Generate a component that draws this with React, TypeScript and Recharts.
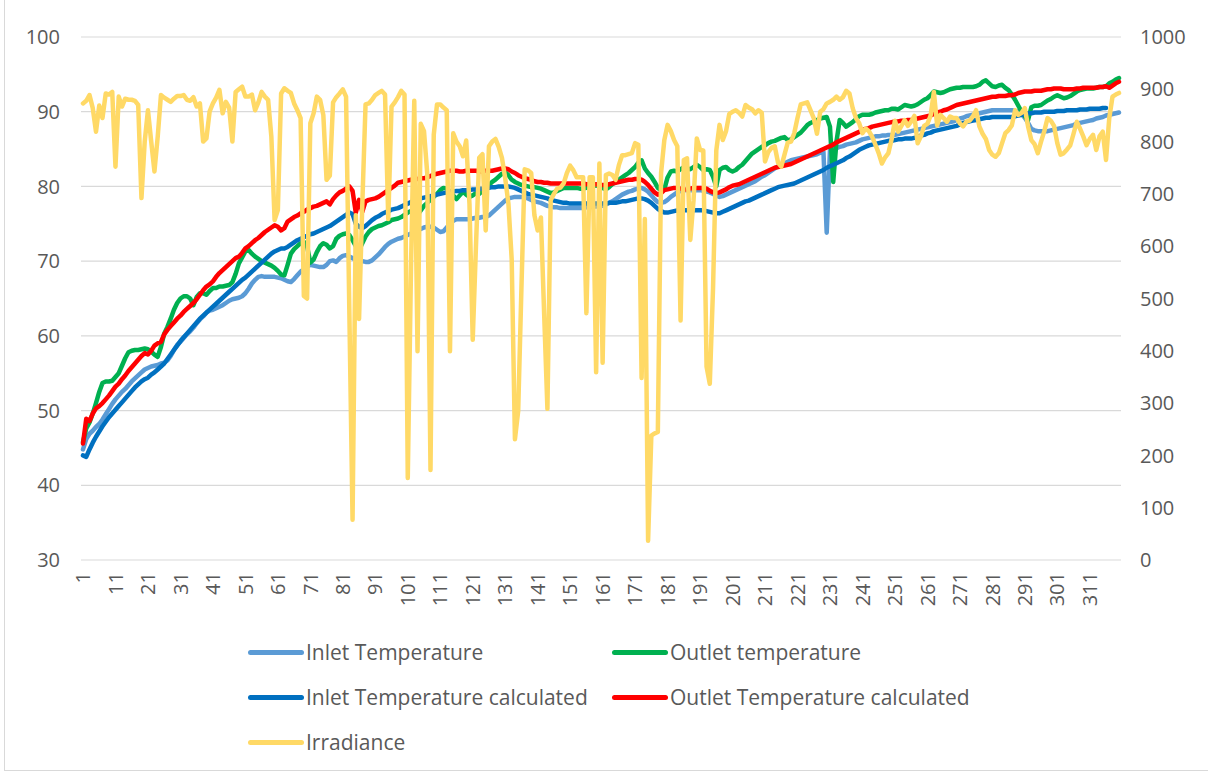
import { CartesianGrid, Line, LineChart, XAxis, YAxis } from 'recharts';

// row numbers 1..320 on the x axis, labelled every 10
const inletTemp = [
  44.8, 46.2, 46.9, 47.3, 47.8, 48.2, 48.8, 49.5, 50.2, 50.9,
  51.5, 52.0, 52.5, 52.9, 53.4, 53.9, 54.3, 54.7, 55.1, 55.5,
  55.7, 55.9, 56.0, 56.1, 56.3, 56.4, 56.7, 57.3, 58.1, 58.8,
  59.2, 59.7, 60.2, 60.6, 61.1, 61.7, 62.2, 62.6, 63.1, 63.4,
  63.5, 63.7, 63.9, 64.1, 64.4, 64.7, 64.9, 65.0, 65.1, 65.3,
  65.7, 66.3, 67.0, 67.5, 67.9, 68.0, 67.9, 67.9, 67.9, 67.9,
  67.8, 67.7, 67.5, 67.3, 67.2, 67.6, 68.1, 68.6, 68.9, 69.3,
  69.5, 69.4, 69.3, 69.2, 69.2, 69.5, 70.0, 70.1, 69.9, 70.4,
  70.7, 70.8, 70.6, 70.4, 70.2, 70.1, 70.0, 69.9, 69.9, 70.1,
  70.5, 70.9, 71.4, 71.9, 72.3, 72.6, 72.8, 73.0, 73.1, 73.3,
  73.5, 73.7, 73.9, 74.1, 74.3, 74.5, 74.6, 74.6, 74.5, 74.2,
  73.9, 74.0, 74.5, 75.0, 75.4, 75.6, 75.6, 75.6, 75.6, 75.6,
  75.7, 75.8, 75.8, 75.9, 75.9, 76.1, 76.5, 76.9, 77.3, 77.7,
  78.1, 78.4, 78.5, 78.6, 78.6, 78.6, 78.5, 78.4, 78.2, 78.0,
  77.9, 77.8, 77.6, 77.4, 77.3, 77.2, 77.2, 77.1, 77.1, 77.1,
  77.1, 77.1, 77.1, 77.1, 77.1, 77.2, 77.2, 77.3, 77.3, 77.4,
  77.4, 77.6, 77.8, 78.0, 78.3, 78.6, 78.9, 79.1, 79.3, 79.4,
  79.6, 79.7, 79.8, 79.6, 79.3, 78.8, 78.3, 77.9, 77.8, 77.9,
  78.2, 78.6, 78.9, 79.2, 79.4, 79.5, 79.5, 79.5, 79.5, 79.5,
  79.5, 79.4, 79.3, 79.2, 79.0, 78.8, 78.6, 78.7, 78.9, 79.1,
  79.3, 79.5, 79.7, 79.9, 80.1, 80.3, 80.5, 80.7, 81.0, 81.3,
  81.5, 81.8, 82.1, 82.4, 82.7, 82.9, 83.1, 83.3, 83.5, 83.6,
  83.7, 83.8, 83.9, 84.0, 84.1, 84.2, 84.3, 84.5, 84.6, 73.8,
  84.8, 85.0, 85.1, 85.3, 85.4, 85.6, 85.7, 85.8, 85.9, 86.1,
  86.3, 86.4, 86.5, 86.6, 86.7, 86.7, 86.8, 86.8, 86.9, 86.9,
  86.9, 87.0, 87.1, 87.2, 87.3, 87.4, 87.5, 87.6, 87.7, 87.8,
  87.9, 88.0, 88.1, 88.2, 88.3, 88.4, 88.5, 88.6, 88.7, 88.9,
  89.1, 89.2, 89.4, 89.5, 89.6, 89.7, 89.8, 89.9, 90.0, 90.1,
  90.2, 90.2, 90.2, 90.2, 90.2, 90.2, 90.2, 90.1, 90.0, 89.7,
  89.2, 88.5, 87.7, 87.5, 87.4, 87.4, 87.4, 87.4, 87.5, 87.6,
  87.7, 87.8, 87.9, 88.0, 88.1, 88.2, 88.4, 88.5, 88.6, 88.7,
  88.8, 88.9, 89.1, 89.2, 89.3, 89.5, 89.6, 89.7, 89.8, 89.9
];

const outletTemp = [
  45.8, 47.6, 48.4, 49.6, 51.0, 52.5, 53.7, 53.9, 53.9, 54.0,
  54.5, 55.0, 56.0, 57.0, 57.8, 58.0, 58.1, 58.1, 58.2, 58.3,
  58.2, 57.9, 57.5, 57.2, 58.5, 60.3, 61.2, 62.3, 63.5, 64.4,
  65.0, 65.3, 65.3, 65.0, 64.1, 65.2, 65.7, 65.7, 65.5, 66.0,
  66.4, 66.4, 66.6, 66.6, 66.7, 66.8, 67.2, 68.3, 69.7, 70.5,
  71.3, 71.5, 71.0, 70.6, 70.3, 70.0, 69.8, 69.6, 69.4, 69.1,
  68.7, 68.2, 68.1, 69.5, 71.0, 71.6, 72.0, 72.4, 72.6, 72.0,
  69.8, 70.2, 71.2, 72.0, 72.4, 72.2, 71.7, 72.0, 73.0, 73.4,
  73.6, 73.7, 73.5, 72.8, 72.0, 71.5, 72.4, 73.3, 73.9, 74.3,
  74.5, 74.7, 74.8, 75.0, 75.2, 75.5, 75.6, 75.7, 75.9, 76.2,
  76.5, 76.7, 76.5, 76.2, 76.8, 77.4, 77.8, 78.2, 78.6, 79.0,
  79.5, 79.8, 79.7, 79.3, 78.8, 78.3, 78.8, 79.3, 78.9, 78.6,
  78.8, 79.1, 79.0, 79.4, 79.8, 80.2, 80.6, 80.9, 81.3, 81.7,
  81.9, 81.5, 80.9, 80.6, 80.4, 80.2, 80.1, 80.0, 79.9, 79.9,
  79.8, 79.7, 79.5, 79.3, 79.1, 79.2, 79.4, 79.6, 79.8, 79.8,
  79.8, 79.8, 79.8, 79.7, 79.7, 79.8, 79.9, 80.0, 80.1, 80.1,
  79.8, 79.6, 79.9, 80.3, 80.6, 80.9, 81.2, 81.5, 81.8, 82.2,
  82.6, 83.2, 83.5, 82.4, 81.8, 81.3, 80.6, 79.8, 79.5, 79.6,
  81.2, 82.0, 82.1, 82.0, 82.3, 82.6, 82.4, 82.3, 82.6, 82.9,
  82.6, 82.2, 82.3, 82.2, 81.3, 80.0, 82.2, 82.5, 82.6, 82.2,
  82.0, 82.2, 82.6, 82.9, 83.4, 83.9, 84.4, 84.7, 85.0, 85.3,
  85.5, 85.8, 86.0, 86.1, 86.3, 86.5, 86.6, 86.2, 86.3, 86.6,
  86.9, 87.2, 87.7, 88.2, 88.5, 88.7, 88.9, 89.1, 89.2, 89.3,
  88.0, 80.6, 86.0, 88.9, 88.5, 88.0, 88.3, 88.6, 89.0, 89.4,
  89.6, 89.6, 89.6, 89.7, 89.9, 90.0, 90.1, 90.2, 90.2, 90.4,
  90.4, 90.3, 90.6, 90.9, 90.8, 90.7, 90.8, 91.0, 91.3, 91.6,
  91.8, 92.2, 92.7, 92.6, 92.5, 92.6, 92.8, 93.0, 93.1, 93.2,
  93.2, 93.3, 93.3, 93.3, 93.3, 93.4, 93.6, 94.0, 94.2, 93.8,
  93.4, 93.3, 93.5, 93.6, 93.2, 92.9, 92.3, 91.6, 90.8, 90.0,
  89.4, 88.9, 90.6, 90.8, 90.8, 90.9, 91.2, 91.5, 91.7, 92.0,
  92.2, 92.0, 91.8, 91.9, 92.1, 92.4, 92.7, 92.9, 93.0, 93.1,
  93.1, 93.1, 93.2, 93.3, 93.3, 93.4, 93.8, 94.0, 94.3, 94.5
];

const inletCalc = [
  44.0, 43.8, 44.8, 45.7, 46.5, 47.2, 47.9, 48.5, 49.1, 49.6,
  50.1, 50.6, 51.1, 51.6, 52.1, 52.6, 53.1, 53.5, 53.9, 54.2,
  54.4, 54.8, 55.1, 55.5, 55.9, 56.3, 56.9, 57.5, 58.1, 58.7,
  59.3, 59.8, 60.3, 60.8, 61.3, 61.8, 62.3, 62.7, 63.1, 63.5,
  63.9, 64.3, 64.7, 65.1, 65.5, 65.9, 66.3, 66.7, 67.1, 67.5,
  67.8, 68.2, 68.6, 69.0, 69.4, 69.8, 70.2, 70.6, 71.0, 71.3,
  71.5, 71.7, 71.7, 71.9, 72.2, 72.5, 72.8, 73.0, 73.2, 73.4,
  73.6, 73.7, 73.9, 74.1, 74.3, 74.5, 74.7, 75.0, 75.3, 75.6,
  75.9, 76.2, 76.5, 76.3, 75.0, 74.6, 74.4, 74.7, 75.1, 75.5,
  75.8, 76.0, 76.3, 76.5, 76.7, 76.9, 77.0, 77.1, 77.3, 77.5,
  77.7, 77.9, 78.1, 78.3, 78.4, 78.5, 78.6, 78.7, 78.8, 78.9,
  79.0, 79.1, 79.2, 79.3, 79.3, 79.4, 79.4, 79.5, 79.5, 79.5,
  79.6, 79.6, 79.7, 79.7, 79.8, 79.8, 79.9, 79.9, 80.0, 80.0,
  80.0, 80.0, 79.9, 79.8, 79.6, 79.4, 79.2, 79.0, 78.9, 78.8,
  78.7, 78.6, 78.5, 78.4, 78.2, 78.1, 78.0, 77.9, 77.8, 77.8,
  77.7, 77.7, 77.7, 77.7, 77.7, 77.7, 77.7, 77.7, 77.7, 77.7,
  77.7, 77.7, 77.8, 77.8, 77.8, 77.9, 78.0, 78.0, 78.1, 78.2,
  78.3, 78.4, 78.4, 78.3, 78.1, 77.8, 77.4, 77.0, 76.7, 76.5,
  76.5, 76.6, 76.7, 76.8, 76.8, 76.8, 76.8, 76.8, 76.8, 76.8,
  76.8, 76.8, 76.7, 76.6, 76.5, 76.4, 76.4, 76.6, 76.8, 77.0,
  77.2, 77.4, 77.6, 77.8, 78.0, 78.1, 78.3, 78.5, 78.7, 78.9,
  79.1, 79.3, 79.5, 79.7, 79.9, 80.0, 80.1, 80.2, 80.3, 80.4,
  80.6, 80.8, 81.0, 81.2, 81.4, 81.6, 81.8, 82.0, 82.2, 82.5,
  82.7, 82.9, 83.1, 83.3, 83.5, 83.8, 84.0, 84.3, 84.6, 84.9,
  85.1, 85.3, 85.5, 85.6, 85.7, 85.8, 85.9, 86.0, 86.1, 86.1,
  86.2, 86.3, 86.3, 86.4, 86.4, 86.4, 86.5, 86.6, 86.8, 86.9,
  87.1, 87.2, 87.4, 87.5, 87.6, 87.7, 87.8, 87.9, 88.0, 88.1,
  88.3, 88.5, 88.6, 88.7, 88.8, 88.9, 89.0, 89.1, 89.2, 89.2,
  89.3, 89.3, 89.3, 89.3, 89.3, 89.3, 89.3, 89.4, 89.5, 89.6,
  89.7, 89.8, 89.8, 89.9, 89.9, 89.9, 90.0, 90.0, 90.0, 90.0,
  90.1, 90.1, 90.1, 90.2, 90.2, 90.2, 90.2, 90.3, 90.3, 90.3,
  90.4, 90.4, 90.4, 90.4, 90.5, 90.5, null, null, null, null
];

const outletCalc = [
  45.6, 48.9, 48.6, 49.6, 50.3, 50.6, 51.0, 51.5, 52.0, 52.6,
  53.2, 53.6, 54.2, 54.7, 55.3, 55.8, 56.3, 56.8, 57.3, 57.7,
  57.5, 58.0, 58.7, 59.0, 59.2, 60.2, 60.8, 61.3, 61.8, 62.3,
  62.7, 63.2, 63.6, 64.0, 64.4, 64.9, 65.5, 66.1, 66.6, 66.9,
  67.3, 67.9, 68.4, 68.8, 69.2, 69.6, 70.0, 70.4, 70.6, 71.1,
  71.7, 72.0, 72.4, 72.8, 73.1, 73.5, 73.9, 74.2, 74.5, 74.8,
  74.6, 74.1, 74.4, 75.3, 75.6, 75.9, 76.1, 76.4, 76.6, 76.9,
  77.1, 77.3, 77.4, 77.6, 77.8, 78.0, 77.6, 78.3, 78.8, 79.2,
  79.4, 79.7, 80.0, 79.4, 76.5, 78.2, 76.6, 78.0, 78.2, 78.3,
  78.4, 78.6, 78.9, 79.2, 79.5, 79.8, 80.1, 80.5, 80.6, 80.7,
  80.8, 80.9, 81.0, 81.0, 81.1, 81.1, 81.2, 81.4, 81.6, 81.7,
  81.8, 81.9, 82.0, 82.1, 82.1, 82.1, 82.0, 82.0, 82.1, 82.1,
  82.1, 82.1, 82.0, 82.0, 82.1, 82.1, 82.1, 82.2, 82.3, 82.4,
  82.4, 82.3, 82.0, 81.8, 81.5, 81.3, 81.1, 81.0, 80.9, 80.7,
  80.6, 80.6, 80.5, 80.5, 80.4, 80.4, 80.4, 80.4, 80.4, 80.4,
  80.4, 80.4, 80.4, 80.4, 80.4, 80.3, 80.3, 80.3, 80.3, 80.2,
  80.2, 80.2, 80.3, 80.4, 80.5, 80.6, 80.7, 80.8, 80.9, 80.9,
  81.0, 81.0, 80.9, 80.6, 80.2, 79.7, 79.2, 78.9, 79.1, 79.5,
  79.6, 79.7, 79.8, 79.8, 79.7, 79.6, 79.6, 79.7, 79.8, 79.8,
  79.8, 79.8, 79.7, 79.4, 79.2, 79.1, 79.2, 79.4, 79.6, 79.9,
  80.1, 80.2, 80.3, 80.5, 80.7, 80.9, 81.1, 81.3, 81.5, 81.7,
  81.9, 82.1, 82.3, 82.5, 82.6, 82.7, 82.8, 82.9, 83.0, 83.2,
  83.4, 83.6, 83.8, 84.0, 84.2, 84.4, 84.6, 84.8, 85.0, 85.2,
  85.4, 85.6, 85.9, 86.1, 86.3, 86.5, 86.7, 86.9, 87.1, 87.3,
  87.5, 87.7, 87.8, 88.0, 88.1, 88.2, 88.3, 88.4, 88.5, 88.6,
  88.7, 88.7, 88.8, 88.8, 88.9, 88.9, 89.0, 89.1, 89.2, 89.3,
  89.4, 89.5, 89.7, 89.9, 90.0, 90.2, 90.3, 90.5, 90.7, 90.9,
  91.0, 91.1, 91.2, 91.3, 91.4, 91.5, 91.6, 91.7, 91.8, 91.9,
  92.0, 92.0, 92.1, 92.1, 92.1, 92.2, 92.2, 92.3, 92.5, 92.6,
  92.7, 92.7, 92.7, 92.8, 92.8, 92.8, 92.9, 93.0, 93.0, 93.1,
  93.1, 93.1, 93.0, 93.0, 93.0, 93.0, 93.1, 93.1, 93.2, 93.2,
  93.2, 93.2, 93.2, 93.3, 93.3, 93.4, 93.2, 93.5, 93.8, 94.0
];

const irradiance = [
  873, 878, 889, 864, 819, 869, 845, 892, 890, 895,
  752, 886, 867, 882, 880, 880, 878, 870, 692, 800,
  860, 800, 743, 809, 889, 884, 880, 876, 882, 887,
  887, 889, 880, 878, 885, 867, 873, 800, 806, 858,
  873, 884, 899, 854, 876, 865, 800, 895, 900, 905,
  886, 886, 890, 860, 875, 895, 886, 880, 809, 650,
  669, 892, 902, 897, 893, 873, 860, 845, 505, 500,
  835, 854, 886, 880, 851, 727, 735, 875, 885, 892,
  900, 886, 480, 77, 659, 461, 680, 871, 873, 880,
  889, 893, 897, 890, 652, 867, 875, 885, 897, 890,
  157, 560, 878, 399, 834, 820, 739, 172, 813, 871,
  871, 865, 860, 399, 816, 800, 791, 772, 802, 681,
  421, 600, 769, 776, 630, 791, 800, 805, 790, 769,
  730, 681, 575, 231, 285, 520, 747, 745, 740, 659,
  630, 655, 470, 289, 688, 700, 710, 712, 720, 740,
  754, 745, 732, 732, 732, 472, 732, 732, 359, 758,
  377, 736, 739, 736, 727, 755, 774, 774, 776, 778,
  797, 794, 348, 652, 37, 238, 242, 245, 740, 803,
  832, 820, 803, 791, 458, 765, 768, 612, 688, 806,
  784, 783, 370, 337, 520, 783, 832, 803, 820, 853,
  857, 860, 855, 848, 870, 865, 862, 854, 860, 855,
  762, 780, 788, 791, 760, 752, 775, 798, 800, 816,
  845, 871, 873, 875, 860, 845, 815, 857, 862, 873,
  876, 880, 886, 880, 885, 897, 892, 864, 845, 835,
  816, 825, 820, 809, 794, 778, 758, 770, 778, 805,
  840, 819, 830, 841, 830, 838, 849, 797, 810, 830,
  834, 850, 895, 831, 851, 845, 838, 848, 845, 845,
  835, 829, 838, 840, 848, 860, 829, 815, 805, 784,
  775, 771, 778, 797, 816, 822, 831, 860, 851, 855,
  864, 829, 803, 795, 778, 800, 820, 845, 840, 830,
  797, 775, 778, 785, 793, 815, 838, 825, 810, 793,
  805, 813, 784, 810, 819, 765, 845, 886, 890, 893
];

const leftTicks = [30, 40, 50, 60, 70, 80, 90, 100];
const rightTicks = [0, 100, 200, 300, 400, 500, 600, 700, 800, 900, 1000];

const seriesInfo = [
  { key: 'inletTemp', name: 'Inlet Temperature', color: '#5B9BD5', axis: 'left' },
  { key: 'outletTemp', name: 'Outlet temperature', color: '#00B050', axis: 'left' },
  { key: 'inletCalc', name: 'Inlet Temperature calculated', color: '#0070C0', axis: 'left' },
  { key: 'outletCalc', name: 'Outlet Temperature calculated', color: '#FF0000', axis: 'left' },
  { key: 'irradiance', name: 'Irradiance', color: '#FFD966', axis: 'right' }
];

const rows = inletTemp.map((v, i) => ({
  idx: i + 1,
  inletTemp: v,
  outletTemp: outletTemp[i],
  inletCalc: inletCalc[i],
  outletCalc: outletCalc[i],
  irradiance: irradiance[i]
}));

const font = '"Open Sans", Lato, sans-serif';
const textColor = '#595959';

function RotatedTick({ x, y, payload }: { x?: number; y?: number; payload?: { value: number } }) {
  return (
    <text
      x={x}
      y={y}
      transform={`rotate(-90 ${x} ${y})`}
      textAnchor="end"
      dy="0.36em"
      fill={textColor}
      fontSize={20}
      fontFamily={font}
    >
      {payload?.value}
    </text>
  );
}

// legend laid out in two columns like the spreadsheet one
const legendSpots = [
  { left: 248, top: 652 },
  { left: 612, top: 652 },
  { left: 248, top: 697 },
  { left: 612, top: 697 },
  { left: 248, top: 742 }
];

export default function App() {
  return (
    <div style={{ position: 'relative', width: 1208, height: 772, overflow: 'hidden', background: '#fff' }}>
      <style>{'body{margin:0}'}</style>
      <div
        style={{
          position: 'absolute',
          left: 4,
          top: -2,
          width: 1220,
          height: 773,
          border: '1px solid #D9D9D9',
          boxSizing: 'border-box'
        }}
      />
      <LineChart width={1208} height={772} data={rows} margin={{ top: 37, right: 0, bottom: 0, left: 0 }}>
        <CartesianGrid yAxisId="left" vertical={false} stroke="#D9D9D9" strokeWidth={1.2} />
        <XAxis
          dataKey="idx"
          scale="point"
          padding={{ left: 2, right: 2 }}
          interval={9}
          height={212}
          axisLine={false}
          tickLine={false}
          tickSize={0}
          tickMargin={12}
          tick={<RotatedTick />}
        />
        <YAxis
          yAxisId="left"
          domain={[30, 100]}
          ticks={leftTicks}
          width={81}
          axisLine={false}
          tickLine={false}
          tickSize={0}
          tickMargin={21}
          tick={{ fill: textColor, fontSize: 20, fontFamily: font }}
        />
        <YAxis
          yAxisId="right"
          orientation="right"
          domain={[0, 1000]}
          ticks={rightTicks}
          width={87}
          axisLine={false}
          tickLine={false}
          tickSize={0}
          tickMargin={19}
          tick={{ fill: textColor, fontSize: 20, fontFamily: font, textAnchor: 'start' }}
        />
        {seriesInfo.map((s) => (
          <Line
            key={s.key}
            yAxisId={s.axis}
            dataKey={s.key}
            name={s.name}
            stroke={s.color}
            strokeWidth={4.5}
            strokeLinejoin="round"
            strokeLinecap="round"
            dot={false}
            activeDot={false}
            type="linear"
            isAnimationActive={false}
          />
        ))}
      </LineChart>
      {seriesInfo.map((s, i) => (
        <div
          key={s.key}
          style={{
            position: 'absolute',
            left: legendSpots[i].left,
            top: legendSpots[i].top - 15,
            height: 30,
            display: 'flex',
            alignItems: 'center',
            fontFamily: font,
            fontSize: 21,
            color: textColor,
            whiteSpace: 'nowrap'
          }}
        >
          <span
            style={{
              display: 'inline-block',
              width: 56,
              height: 5,
              borderRadius: 3,
              background: s.color,
              marginRight: 2
            }}
          />
          {s.name}
        </div>
      ))}
    </div>
  );
}
